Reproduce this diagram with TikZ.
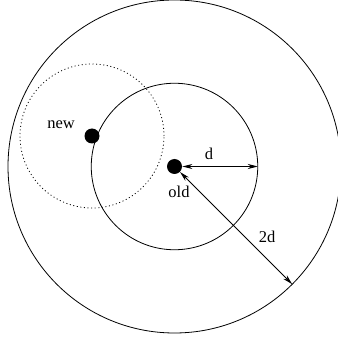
\documentclass[tikz,border=0pt]{standalone}
\usepackage{fontspec}
\setmainfont{Liberation Serif}
\usetikzlibrary{arrows.meta,calc}

\begin{document}
\begin{tikzpicture}[x=1pt,y=1pt,line width=0.8pt,
   >={Stealth[length=10pt,width=5pt]},
   dot/.style={circle,fill,inner sep=0pt,minimum size=15pt},
   lbl/.style={font=\fontsize{16.5}{19}\selectfont,inner sep=0pt}]
  \useasboundingbox (0,0) rectangle (338,341);
  \coordinate (old) at (174.5,174.5);
  \coordinate (new) at (92,205);
  % circles
  \draw (old) circle (166.5);
  \draw (old) circle (83.25);
  \draw[dash pattern=on 1pt off 2.6pt] (new) circle (72);
  % points
  \node[dot] (olddot) at (old) {};
  \node[dot] (newdot) at (new) {};
  \coordinate (dend) at ($(old)+(83.25,0)$);
  \coordinate (twodend) at ($(old)+(-45:166.5)$);
  % radii
  \draw[<->] (olddot) -- (dend);
  \draw[<->] (olddot.-45) -- (twodend);
  % labels
  \node[lbl] (dlabel) at (209,187) {d};
  \node[lbl] (oldlabel) at (179,149) {old};
  \node[lbl] (newlabel) at (61,216) {new};
  \node[lbl] (twodlabel) at (267,104) {2d};
\end{tikzpicture}
\end{document}
